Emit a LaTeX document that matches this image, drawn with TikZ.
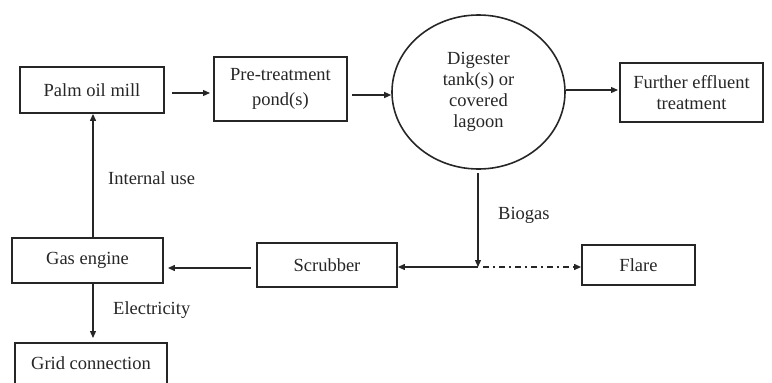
\documentclass[tikz,border=0pt]{standalone}
\usepackage{fontspec}
\setmainfont{Liberation Serif}
\usetikzlibrary{arrows.meta,shapes.geometric}
\begin{document}
\begin{tikzpicture}[x=1pt,y=-1pt,
  every node/.style={font=\fontsize{18.5}{21}\selectfont, text=black!85, inner sep=0pt},
  box/.style={draw=black!85, line width=1.8pt, minimum width=#1, align=center},
  arr/.style={draw=black!85, line width=1.2pt, -{Triangle[length=7pt,width=6pt]}},
  lbl/.style={anchor=west}]
\useasboundingbox (0,0) rectangle (772,383);
\begin{scope}
\clip (0,0) rectangle (772,383);
\node[box=144pt, minimum height=46pt] (palm) at (92,90) {Palm oil mill};
\node[box=133pt, minimum height=64pt] (pre) at (280.5,89) {Pre-treatment\\[4pt]pond(s)};
\node[draw=black!85, line width=1.6pt, ellipse, minimum width=173pt, minimum height=154pt, align=center] (dig) at (478.5,92) {Digester\\tank(s) or\\covered\\lagoon};
\node[box=143pt, minimum height=59pt] (fur) at (691.5,92.5) {Further effluent\\treatment};
\node[box=151pt, minimum height=45pt] (gas) at (87.5,260.5) {Gas engine};
\node[box=140pt, minimum height=44pt] (scr) at (327,265) {Scrubber};
\node[box=113pt, minimum height=40pt] (fla) at (638.5,265) {Flare};
\node[box=152pt, minimum height=52pt] (grid) at (91,369) {};
\node (gridt) at (91,363) {Grid connection};
\end{scope}
\coordinate (j) at (478,267);
\coordinate (ds) at (478,173);
\draw[arr] (172,93) -- (210,93);
\draw[arr] (352,95) -- (dig.west |- 0,95);
\draw[arr] (dig.east |- 0,90) -- (618,90);
\draw[arr] (ds) -- (j);
\draw[arr] (j) -- (scr.east |- j);
\draw[arr, dash pattern=on 6pt off 4pt on 2pt off 4pt] ([xshift=5pt]j) -- (fla.west |- j);
\draw[arr] ([xshift=-5pt]scr.west |- 0,268) -- ([xshift=4pt]gas.east |- 0,268);
\draw[arr] (gas.north -| 93,0) -- (palm.south -| 93,0);
\draw[arr] (gas.south -| 93,0) -- (93,338);
\node[lbl] (iu) at (108,178) {Internal use};
\node[lbl] (el) at (113,310) {Electricity};
\node[lbl] (bg) at (498,215) {Biogas};
\end{tikzpicture}
\end{document}
